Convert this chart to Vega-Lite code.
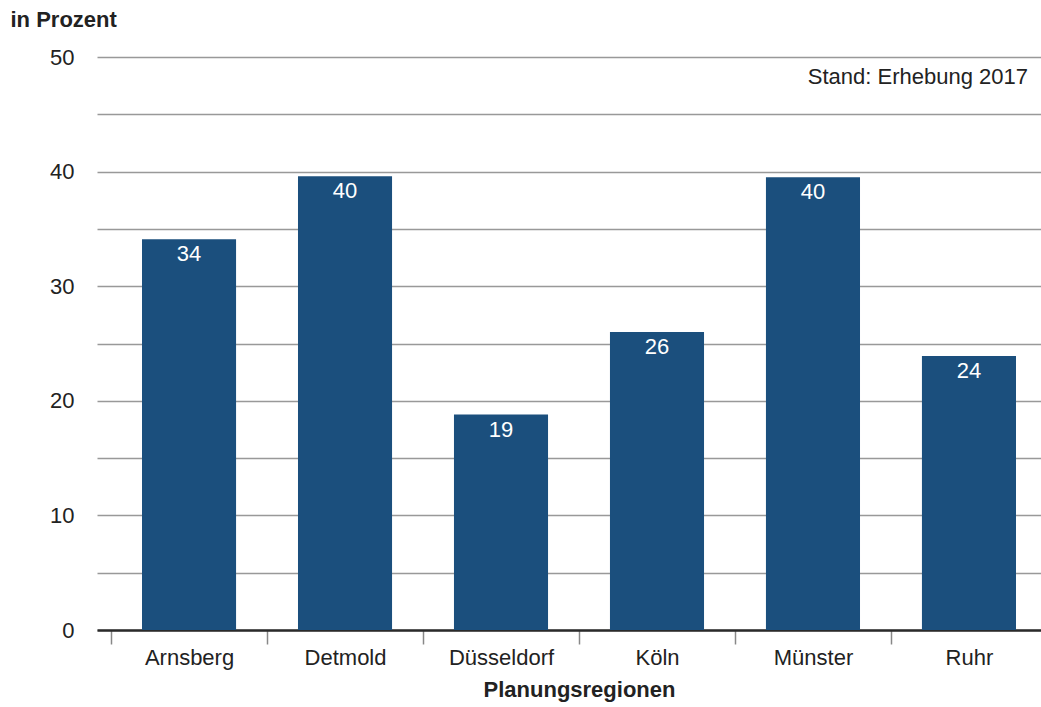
{
  "$schema": "https://vega.github.io/schema/vega-lite/v6.json",
  "autosize": "none",
  "width": 964,
  "height": 573,
  "padding": {"left": 97, "top": 57, "right": 0, "bottom": 77},
  "background": "white",
  "config": {
    "font": "Liberation Sans",
    "view": {"stroke": null},
    "axis": {"labelColor": "#222222", "titleColor": "#222222"}
  },
  "data": {
    "values": [
      {"region": "Arnsberg", "anteil": 34.1},
      {"region": "Detmold", "anteil": 39.6},
      {"region": "Düsseldorf", "anteil": 18.8},
      {"region": "Köln", "anteil": 26.0},
      {"region": "Münster", "anteil": 39.5},
      {"region": "Ruhr", "anteil": 23.9}
    ]
  },
  "encoding": {
    "x": {
      "field": "region",
      "type": "nominal",
      "sort": null,
      "scale": {"paddingInner": 0, "paddingOuter": 0.09},
      "axis": {
        "title": "Planungsregionen",
        "titleFontSize": 22,
        "titleFontWeight": "bold",
        "titlePadding": 11,
        "labelAngle": 0,
        "labelFontSize": 22,
        "labelPadding": 3,
        "tickBand": "extent",
        "tickSize": 14,
        "tickColor": "#888888",
        "tickWidth": 1.5,
        "domainColor": "#2a2a2a",
        "domainWidth": 2.5,
        "grid": false
      }
    },
    "y": {
      "field": "anteil",
      "type": "quantitative",
      "scale": {"domain": [0, 50], "nice": false},
      "axis": {
        "title": "in Prozent",
        "titleAngle": 0,
        "titleAlign": "left",
        "titleBaseline": "middle",
        "titleX": -87,
        "titleY": -38,
        "titleFontSize": 22,
        "titleFontWeight": "bold",
        "values": [0, 5, 10, 15, 20, 25, 30, 35, 40, 45, 50],
        "labelExpr": "datum.value % 10 === 0 ? datum.label : ''",
        "labelFontSize": 22,
        "labelPadding": 23,
        "tickSize": 0,
        "domain": false,
        "grid": true,
        "gridColor": "#999999",
        "gridWidth": 1.5
      }
    }
  },
  "layer": [
    {"mark": {"type": "bar", "color": "#1b4f7d", "width": {"band": 0.603}}},
    {
      "mark": {"type": "text", "color": "white", "fontSize": 22, "baseline": "middle", "dy": 15},
      "encoding": {"text": {"field": "anteil", "type": "quantitative", "format": ".0f"}}
    },
    {
      "data": {"values": [{"region": "Ruhr", "anteil": 48.25, "hinweis": "Stand: Erhebung 2017"}]},
      "mark": {"type": "text", "align": "right", "baseline": "middle", "fontSize": 22, "color": "#222222", "dx": 59},
      "encoding": {
        "text": {"field": "hinweis", "type": "nominal"}
      }
    }
  ]
}
